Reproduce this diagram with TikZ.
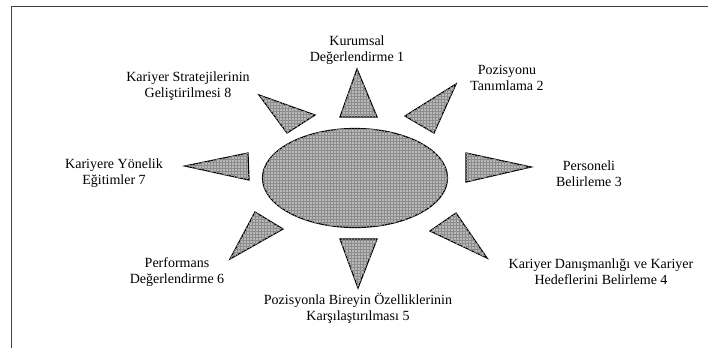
\documentclass[tikz,border=0pt]{standalone}
\usepackage{fontspec}
\setmainfont{Liberation Serif}
\usetikzlibrary{shapes.geometric,patterns}
\tikzset{
  ray/.style={draw=black,line width=1.2pt,line join=miter,fill=gray!55,
    postaction={pattern=grid,pattern color=black!45}},
  lbl/.style={font=\fontsize{14}{16}\selectfont,align=center,inner sep=0pt},
}

\begin{document}
\begin{tikzpicture}[x=1pt,y=-1pt]
        \useasboundingbox (0,0) rectangle (708,348);
        % frame
        \draw[black!75,line width=1pt] (11,348) -- (11,6) -- (708,6);
        % centre
        \node[ellipse,draw=black,line width=1.2pt,fill=gray!55,
          postaction={pattern=grid,pattern color=black!45},
          minimum width=185pt,minimum height=99pt,inner sep=0pt] (core) at (355,178) {};
        % rays
        \foreach \ax/\ay/\bx/\by/\cx/\cy in {357/69/340/117/377/117, 456/84/405/116/434/133,
            531/167/466/153/466/182, 487/258/456/213/430/231, 358/288/340/239/377/239,
            230/259/255/212/283/229, 185/166/248/153/249/180, 259/95/315/115/287/133} {
          \draw[ray] (\ax,\ay) -- (\bx,\by) -- (\cx,\cy) -- cycle;
        }
        % labels
        \node[lbl] (k1) at (357,50) {Kurumsal\\Değerlendirme 1};
        \node[lbl] (k2) at (507,78) {Pozisyonu\\Tanımlama 2};
        \node[lbl] (k3) at (589,174) {Personeli\\Belirleme 3};
        \node[lbl] (k4) at (601,272) {Kariyer Danışmanlığı ve Kariyer\\Hedeflerini Belirleme 4};
        \node[lbl] (k5) at (358,308) {Pozisyonla Bireyin Özelliklerinin\\Karşılaştırılması 5};
        \node[lbl] (k6) at (177,272) {Performans\\Değerlendirme 6};
        \node[lbl] (k7) at (114,173) {Kariyere Yönelik\\Eğitimler 7};
        \node[lbl] (k8) at (188,86) {Kariyer Stratejilerinin\\Geliştirilmesi 8};
      \end{tikzpicture}
\end{document}
